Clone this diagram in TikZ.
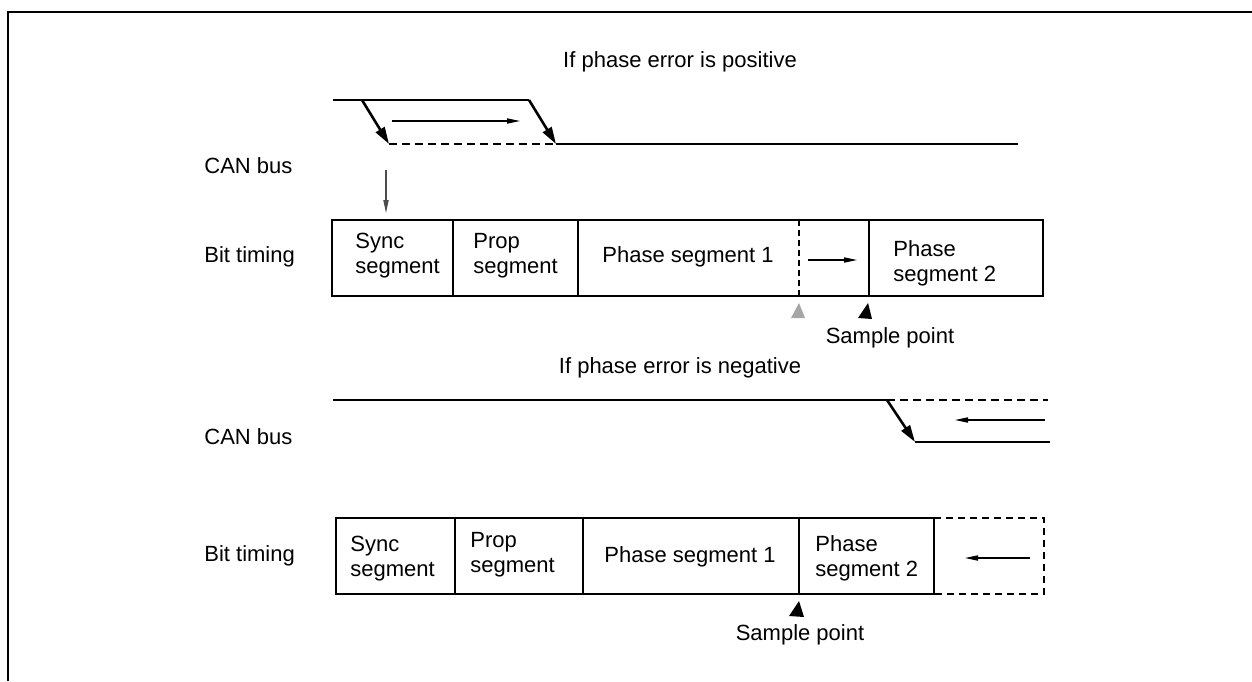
\documentclass[tikz,border=0pt]{standalone}
\usepackage{fontspec}
\setmainfont{Liberation Sans}
\usetikzlibrary{arrows.meta}
\tikzset{lbl/.style={inner sep=0pt,font=\fontsize{11}{12.5}\selectfont},
  seg/.style={lbl,align=left,anchor=west},
  bus/.style={line width=1.3pt},
  buslo/.style={bus,dash pattern=on 4pt off 2.5pt},
  edge/.style={-{Triangle[length=8.5pt,width=5pt]},line width=1.3pt},
  thin/.style={-{Triangle[length=6.5pt,width=2.6pt]},line width=.55pt},
  box/.style={line width=1.1pt},
  divider/.style={line width=.55pt}}

\begin{document}
\begin{tikzpicture}[x=.5pt,y=-.5pt]
  \path[use as bounding box] (0,0) rectangle (1252,681);
  \draw[line width=1.1pt] (8,681) -- (8,12) -- (1252,12);

  % positive phase error
  \node[lbl] (tpos) at (680,62) {If phase error is positive};
  \node[lbl,anchor=west] (busa) at (204,166) {CAN bus};
  \node[lbl,anchor=west] (bita) at (204,257) {Bit timing};
  \draw[bus] (333,100) -- (529,100);
  \draw[edge] (362,100) -- (389,144);
  \draw[edge] (529,100) -- (556,144);
  \draw[buslo] (389,144) -- (556,144);
  \draw[bus] (556,144) -- (1018,144);
  \draw[thin] (392,121) -- (520,121);
  \coordinate (edgea) at (386,170);
  \coordinate (tipa) at (386,213);
  \draw[thin,draw=black!70] (edgea) -- (tipa);
  \draw[box] (332,220) rectangle (1043,296);
  \foreach \x in {453,578,869}{\draw[divider] (\x,220)--(\x,296);}
  \draw[divider,dash pattern=on 3pt off 2pt] (799,220)--(799,296);
  \node[seg] (synca) at (355,256) {Sync\\segment};
  \node[seg] (propa) at (473,256) {Prop\\segment};
  \node[lbl] (ph1a) at (688,257) {Phase segment 1};
  \node[seg] (ph2a) at (893,263) {Phase\\segment 2};
  \coordinate (olda) at (808,260);
  \coordinate (newa) at (857,260);
  \draw[thin] (olda) -- (newa);
  \fill[black!35] (799,303) -- (791,318) -- (805,318) -- cycle;
  \fill (868,303) -- (858,318) -- (872,319) -- cycle;
  \node[lbl] (spa) at (890,338) {Sample point};

  % negative phase error
  \node[lbl] (tneg) at (680,368) {If phase error is negative};
  \node[lbl,anchor=west] (busb) at (204,437) {CAN bus};
  \node[lbl,anchor=west] (bitb) at (204,556) {Bit timing};
  \draw[bus] (333,400) -- (887,400);
  \draw[buslo] (887,400) -- (1048,400);
  \draw[edge] (887,400) -- (915,442);
  \draw[bus] (915,442) -- (1050,442);
  \draw[thin] (1045,420) -- (955,420);
  \draw[box] (336,518) rectangle (934,594);
  \foreach \x in {455,583,799}{\draw[divider] (\x,518)--(\x,594);}
  \draw[box,dash pattern=on 3.5pt off 2.5pt] (934,518) -- (1044,518) -- (1044,594) -- (934,594);
  \node[seg] (syncb) at (350,559) {Sync\\segment};
  \node[seg] (propb) at (470,555) {Prop\\segment};
  \node[lbl] (ph1b) at (690,557) {Phase segment 1};
  \node[seg] (ph2b) at (815,558) {Phase\\segment 2};
  \coordinate (oldb) at (1030,558);
  \coordinate (newb) at (965,558);
  \draw[thin] (oldb) -- (newb);
  \fill (799,601) -- (789,616) -- (804,617) -- cycle;
  \node[lbl] (spb) at (800,635) {Sample point};
\end{tikzpicture}
\end{document}
